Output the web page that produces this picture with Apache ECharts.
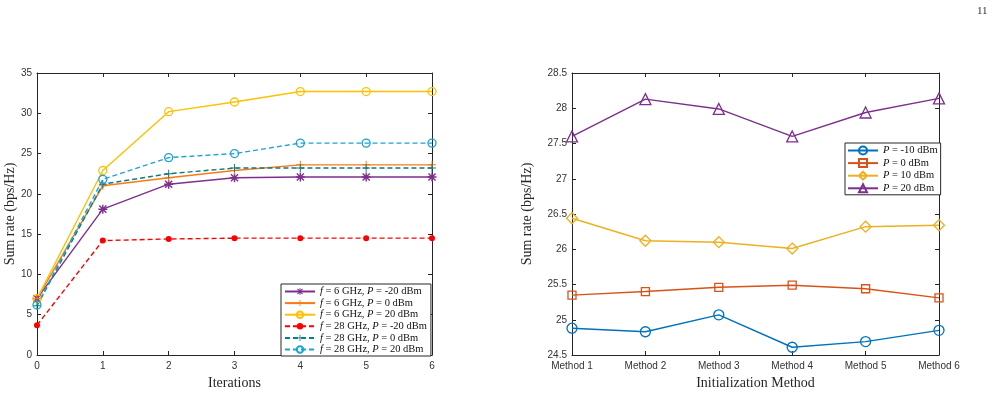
<!DOCTYPE html>
<html><head><meta charset="utf-8">
<script src="https://cdn.jsdelivr.net/npm/echarts@6/dist/echarts.min.js"></script>
<style>html,body{margin:0;padding:0;background:#fff}#c{width:1001px;height:394px}</style>
</head><body><div id="c"></div>
<script>
// ---- Left chart data ----
const iterations = [0, 1, 2, 3, 4, 5, 6];
const f6_Pm20  = [7.0, 18.1, 21.2, 22.0, 22.1, 22.1, 22.1];
const f6_P0    = [7.0, 21.0, 22.0, 22.9, 23.6, 23.6, 23.6];
const f6_P20   = [7.0, 22.9, 30.2, 31.4, 32.7, 32.7, 32.7];
const f28_Pm20 = [3.7, 14.2, 14.4, 14.5, 14.5, 14.5, 14.5];
const f28_P0   = [6.1, 21.2, 22.5, 23.2, 23.2, 23.2, 23.2];
const f28_P20  = [6.2, 21.8, 24.5, 25.0, 26.3, 26.3, 26.3];
const leftNames = ['f = 6 GHz, P = -20 dBm','f = 6 GHz, P = 0 dBm','f = 6 GHz, P = 20 dBm',
                   'f = 28 GHz, P = -20 dBm','f = 28 GHz, P = 0 dBm','f = 28 GHz, P = 20 dBm'];
// ---- Right chart data ----
const methods = ['Method 1','Method 2','Method 3','Method 4','Method 5','Method 6'];
const P_m10 = [24.88, 24.83, 25.07, 24.61, 24.69, 24.85];
const P_0   = [25.35, 25.40, 25.46, 25.49, 25.44, 25.31];
const P_10  = [26.44, 26.12, 26.10, 26.01, 26.32, 26.34];
const P_20  = [27.60, 28.13, 27.99, 27.60, 27.94, 28.14];
const rightNames = ['P = -10 dBm','P = 0 dBm','P = 10 dBm','P = 20 dBm'];

const AX = '#262626';
const SANS = 'Liberation Sans, Arial, sans-serif';
const SERIF = 'Liberation Serif, Times New Roman, serif';
const plusPath = 'path://M4.4,0h1.2v4.4h4.4v1.2h-4.4v4.4h-1.2v-4.4h-4.4v-1.2h4.4z';
const starPath = 'path://M4.2,0h1.6v10h-1.6z M0,4.2h10v1.6h-10z M1.6,0.5L9.5,8.4L8.4,9.5L0.5,1.6z M8.4,0.5L9.5,1.6L1.6,9.5L0.5,8.4z';

const pair = (xs, ys) => xs.map((x, i) => [x, ys[i]]);

function boxAxis(grid, pos, extra) {
  return Object.assign({
    gridIndex: grid, position: pos,
    axisLine: {show: true, onZero: false, lineStyle: {color: AX, width: 1}},
    axisTick: {show: true, inside: true, length: 4, lineStyle: {color: AX}},
    axisLabel: {show: false}, splitLine: {show: false}
  }, extra);
}
const mainLabel = {color: '#333', fontFamily: SANS, fontSize: 10};
const legendFmt = name => name.replace(/\b([fP])\b/g, '{i|$1}');
function legendText(fs, lh) {
  return {color: '#111', fontFamily: SERIF, fontSize: fs, lineHeight: lh,
    rich: {i: {fontStyle: 'italic', fontFamily: SERIF, fontSize: fs, lineHeight: lh, color: '#111'}}};
}

function lineSeries(name, data, color, symbol, size, dashed, xi, yi, hollow) {
  return {
    type: 'line', name, data, xAxisIndex: xi, yAxisIndex: yi,
    symbol, symbolSize: size, showSymbol: true, animation: false,
    lineStyle: {color, width: 1.4, type: dashed ? [5, 3] : 'solid'},
    itemStyle: hollow ? {color: 'rgba(255,255,255,0)', borderColor: color, borderWidth: 1.3}
                      : {color: color, borderWidth: 0},
    emphasis: {disabled: true}
  };
}

const option = {
  backgroundColor: '#fff',
  animation: false,
  grid: [
    {left: 37, top: 73, width: 395, height: 282, outerBoundsMode: 'none', containLabel: false},
    {left: 572, top: 73, width: 367, height: 282, outerBoundsMode: 'none', containLabel: false}
  ],
  xAxis: [
    boxAxis(0, 'bottom', {type: 'value', min: 0, max: 6, interval: 1,
      axisLabel: Object.assign({show: true, margin: 6}, mainLabel),
      name: 'Iterations', nameLocation: 'middle', nameGap: 21,
      nameTextStyle: {fontFamily: SERIF, fontSize: 14, color: AX}}),
    boxAxis(0, 'top', {type: 'value', min: 0, max: 6, interval: 1}),
    boxAxis(1, 'bottom', {type: 'category', data: methods, boundaryGap: false,
      axisLabel: Object.assign({show: true, margin: 6, interval: 0}, mainLabel),
      name: 'Initialization Method', nameLocation: 'middle', nameGap: 21,
      nameTextStyle: {fontFamily: SERIF, fontSize: 14, color: AX}}),
    boxAxis(1, 'top', {type: 'category', data: methods, boundaryGap: false})
  ],
  yAxis: [
    boxAxis(0, 'left', {type: 'value', min: 0, max: 35, interval: 5,
      axisLabel: Object.assign({show: true, margin: 5}, mainLabel),
      name: 'Sum rate (bps/Hz)', nameLocation: 'middle', nameGap: 18,
      nameTextStyle: {fontFamily: SERIF, fontSize: 14, color: AX}}),
    boxAxis(0, 'right', {type: 'value', min: 0, max: 35, interval: 5}),
    boxAxis(1, 'left', {type: 'value', min: 24.5, max: 28.5, interval: 0.5,
      axisLabel: Object.assign({show: true, margin: 5}, mainLabel),
      name: 'Sum rate (bps/Hz)', nameLocation: 'middle', nameGap: 38,
      nameTextStyle: {fontFamily: SERIF, fontSize: 14, color: AX}}),
    boxAxis(1, 'right', {type: 'value', min: 24.5, max: 28.5, interval: 0.5})
  ],
  legend: [
    {data: leftNames, orient: 'vertical', left: 281, top: 284,
     itemWidth: 30, itemHeight: 8, itemGap: 0.6, padding: [2, 4, 1, 3],
     borderColor: AX, borderWidth: 1, backgroundColor: '#fff',
     formatter: legendFmt, textStyle: legendText(10.5, 11), selectedMode: false},
    {data: rightNames, orient: 'vertical', left: 845, top: 143,
     itemWidth: 30, itemHeight: 10, itemGap: 1.6, padding: [2, 3, 1, 2],
     borderColor: AX, borderWidth: 1, backgroundColor: '#fff',
     formatter: legendFmt, textStyle: legendText(10.5, 11), selectedMode: false}
  ],
  graphic: [
    {type: 'text', left: 977, top: 6, style: {text: '11', fontFamily: SERIF, fontSize: 11, fill: '#333'}}
  ],
  series: [
    lineSeries(leftNames[0], pair(iterations, f6_Pm20), '#7E2F8E', starPath, 9, false, 0, 0, false),
    lineSeries(leftNames[1], pair(iterations, f6_P0), '#F97A12', plusPath, 8, false, 0, 0, false),
    lineSeries(leftNames[2], pair(iterations, f6_P20), '#FFC000', 'circle', 8, false, 0, 0, true),
    lineSeries(leftNames[3], pair(iterations, f28_Pm20), '#FF0000', 'circle', 6, true, 0, 0, false),
    lineSeries(leftNames[4], pair(iterations, f28_P0), '#0E7C80', plusPath, 8, true, 0, 0, false),
    lineSeries(leftNames[5], pair(iterations, f28_P20), '#1BA3D6', 'circle', 8, true, 0, 0, true),
    lineSeries(rightNames[0], P_m10, '#0072BD', 'circle', 10, false, 2, 2, true),
    lineSeries(rightNames[1], P_0, '#D95319', 'rect', 8, false, 2, 2, true),
    lineSeries(rightNames[2], P_10, '#EDB120', 'diamond', 11, false, 2, 2, true),
    lineSeries(rightNames[3], P_20, '#7E2F8E', 'triangle', 11, false, 2, 2, true)
  ]
};
const chart = echarts.init(document.getElementById('c'), null, {renderer: 'canvas'});
chart.setOption(option);
</script></body></html>
